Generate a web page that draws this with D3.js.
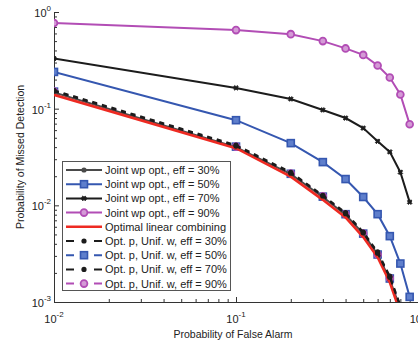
<!DOCTYPE html>
<html><head><meta charset="utf-8">
<script src="https://cdn.jsdelivr.net/npm/d3@7/dist/d3.min.js"></script>
<style>body{margin:0;background:#fff}svg{display:block}text{font-family:"Liberation Sans",Arial,sans-serif;fill:#222}</style>
</head><body><svg id="c" width="418" height="342"></svg>
<script>
const pfa = [0.01, 0.1, 0.2, 0.3, 0.4, 0.5, 0.6, 0.7, 0.8, 0.9];
const joint30 = [0.147, 0.040, 0.0210, 0.0122, 0.0080, 0.0051, 0.0031, 0.0017, 0.00085, 0.0003];
const joint50 = [0.24, 0.076, 0.044, 0.028, 0.0187, 0.0122, 0.0081, 0.0048, 0.0025, 0.00113];
const joint70 = [0.33, 0.164, 0.126, 0.097, 0.080, 0.063, 0.046, 0.0357, 0.022, 0.0108];
const joint90 = [0.77, 0.65, 0.59, 0.50, 0.42, 0.36, 0.28, 0.21, 0.14, 0.069];
const optimal = [0.139, 0.039, 0.0198, 0.0114, 0.0075, 0.0047, 0.0029, 0.0016, 0.00077, 0.0003];
const unif30 = [0.152, 0.041, 0.0215, 0.0125, 0.0082, 0.0052, 0.0032, 0.0018, 0.0009, 0.0003];
const unif50 = [0.150, 0.0405, 0.0212, 0.0123, 0.0081, 0.0051, 0.0031, 0.00175, 0.00088, 0.0003];
const unif70 = [0.155, 0.042, 0.0220, 0.0127, 0.0084, 0.0053, 0.0033, 0.00185, 0.00092, 0.0003];
const unif90 = [0.150, 0.0405, 0.0213, 0.0124, 0.0081, 0.0051, 0.0031, 0.00176, 0.00088, 0.0003];
const xTicks = [0.01, 0.1, 1];
const yTicks = [0.001, 0.01, 0.1, 1];
const legendLabels = ["Joint wp opt., eff = 30%", "Joint wp opt., eff = 50%", "Joint wp opt., eff = 70%", "Joint wp opt., eff = 90%", "Optimal linear combining", "Opt. p, Unif. w, eff = 30%", "Opt. p, Unif. w, eff = 50%", "Opt. p, Unif. w, eff = 70%", "Opt. p, Unif. w, eff = 90%"];

const BLACK = "#1c1c1c", GRAY = "#4a4a4a", BLUE = "#3557b0", MAG = "#b24db5", RED = "#ee2a22";
const series = [
  {v: unif50, c: BLUE, dash: "5,5", m: "square", legend: 6},
  {v: unif90, c: MAG, dash: "5,5", m: "circle", legend: 8},
  {v: joint30, c: GRAY, dash: null, m: "dot", legend: 0},
  {v: optimal, c: RED, dash: null, m: null, legend: 4, w: 2.6},
  {v: unif30, c: BLACK, dash: "5,5", m: "dot", legend: 5},
  {v: unif70, c: BLACK, dash: "5,5", m: "dot", legend: 7},
  {v: joint50, c: BLUE, dash: null, m: "square", legend: 1},
  {v: joint70, c: BLACK, dash: null, m: "star", legend: 2},
  {v: joint90, c: MAG, dash: null, m: "circle", legend: 3},
];

const svg = d3.select("#c");
const L = 54, R = 418, T = 12, B = 302;
const x = d3.scaleLog().domain([0.01, 1]).range([L, R]);
const y = d3.scaleLog().domain([0.001, 1]).range([B, T]);

svg.append("clipPath").attr("id", "clip").append("rect").attr("x", L).attr("y", T - 8).attr("width", R - L + 10).attr("height", B - T + 8);

function minors(dom) {
  const out = [];
  for (let e = Math.log10(dom[0]); e < Math.log10(dom[1]); e++)
    for (let k = 2; k <= 9; k++) out.push(k * Math.pow(10, e));
  return out;
}
// axes
const gx = svg.append("g").attr("transform", `translate(0,${B})`);
gx.call(d3.axisBottom(x).tickValues(minors([0.01, 1])).tickSize(-3).tickFormat(""));
gx.call(g => g.select(".domain").remove());
const gx2 = svg.append("g").attr("transform", `translate(0,${B})`);
gx2.call(d3.axisBottom(x).tickValues(xTicks).tickSize(-5).tickSizeOuter(0).tickFormat(""));
const gy = svg.append("g").attr("transform", `translate(${L},0)`);
gy.call(d3.axisLeft(y).tickValues(minors([0.001, 1])).tickSize(-3).tickFormat(""));
gy.call(g => g.select(".domain").remove());
const gy2 = svg.append("g").attr("transform", `translate(${L},0)`);
gy2.call(d3.axisLeft(y).tickValues(yTicks).tickSize(-5).tickSizeOuter(0).tickFormat(""));
svg.selectAll(".tick line, .domain").attr("stroke", "#333").attr("stroke-width", 1);

function supLabel(g, xx, yy, exp, anchor) {
  const t = g.append("text").attr("x", xx).attr("y", yy).attr("font-size", 11).attr("text-anchor", anchor);
  t.append("tspan").text("10");
  t.append("tspan").attr("dy", -6).attr("font-size", 8).text(exp);
}
xTicks.forEach(v => supLabel(svg, x(v), 323, String(Math.round(Math.log10(v))), "middle"));
yTicks.forEach(v => supLabel(svg, L - 3, y(v) + 5, String(Math.round(Math.log10(v))), "end"));

svg.append("text").attr("x", 233).attr("y", 338).attr("text-anchor", "middle").attr("font-size", 10.5).text("Probability of False Alarm");
svg.append("text").attr("transform", `translate(24,${(T + B) / 2}) rotate(-90)`).attr("text-anchor", "middle").attr("font-size", 10.5).text("Probability of Missed Detection");

function marker(g, type, cx, cy, c) {
  if (type === "square") g.append("rect").attr("x", cx - 3.5).attr("y", cy - 3.5).attr("width", 7).attr("height", 7).attr("fill", "#5f7fcc").attr("stroke", c).attr("stroke-width", 1.6);
  else if (type === "circle") g.append("circle").attr("cx", cx).attr("cy", cy).attr("r", 3.4).attr("fill", "#d49ad6").attr("stroke", c).attr("stroke-width", 1.8);
  else if (type === "dot") g.append("circle").attr("cx", cx).attr("cy", cy).attr("r", 2.6).attr("fill", c);
  else if (type === "star") g.append("path").attr("d", d3.symbol(d3.symbolCross, 14)()).attr("transform", `translate(${cx},${cy}) rotate(45)`).attr("fill", c).attr("stroke", c).attr("stroke-width", 0.8);
}

const line = d3.line().x(d => x(d[0])).y(d => y(d[1]));
const plot = svg.append("g").attr("clip-path", "url(#clip)");
series.forEach(s => {
  const pts = pfa.map((f, i) => [f, s.v[i]]);
  plot.append("path").attr("d", line(pts)).attr("fill", "none").attr("stroke", s.c).attr("stroke-width", s.w || 2).attr("stroke-dasharray", s.dash);
  if (s.m) pts.forEach(p => { if (p[1] >= 0.001) marker(plot, s.m, x(p[0]), y(p[1]), s.c); });
});

// legend
const lg = svg.append("g");
lg.append("rect").attr("x", 62.5).attr("y", 161.5).attr("width", 168).attr("height", 129).attr("fill", "#fff").attr("stroke", "#555").attr("stroke-width", 1);
const legendOrder = legendLabels.map((lab, i) => series.find(s => s.legend === i));
legendOrder.forEach((s, i) => {
  const yy = 170 + i * 14.2;
  lg.append("line").attr("x1", 66).attr("x2", 102).attr("y1", yy).attr("y2", yy).attr("stroke", s.c).attr("stroke-width", s.w || 2).attr("stroke-dasharray", s.dash ? "8,20" : null);
  if (s.m) marker(lg, s.m, 84, yy, s.c);
  lg.append("text").attr("x", 105).attr("y", yy + 4).attr("font-size", 11).text(legendLabels[i]);
});
</script></body></html>
